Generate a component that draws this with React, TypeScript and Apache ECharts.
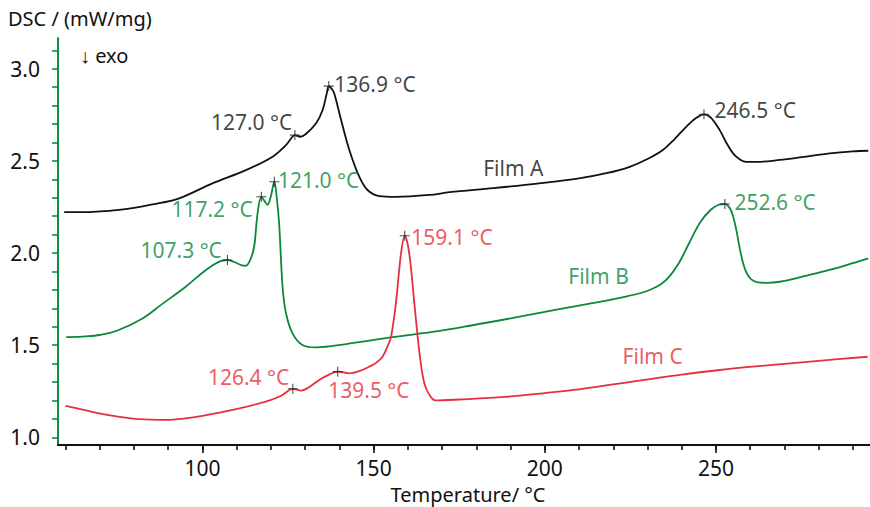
import React, { useEffect, useRef } from "react";
import * as echarts from "echarts";

// ---------- data ----------
const filmA: [number, number][] = [
  [59.6, 2.222], [65, 2.222], [70, 2.226], [75, 2.233], [80, 2.245], [85, 2.262],
  [93.2, 2.297], [102.9, 2.378], [112.7, 2.45], [120.5, 2.523], [124.4, 2.586],
  [126.3, 2.631], [127.0, 2.64], [128.5, 2.631], [130.2, 2.646], [133.2, 2.704],
  [135.1, 2.776], [136.3, 2.866], [136.9, 2.906], [137.8, 2.89], [138.5, 2.866],
  [140.5, 2.722], [142.9, 2.559], [145.8, 2.414], [148.2, 2.342], [151.7, 2.309],
  [156.5, 2.305], [166.3, 2.315], [172.2, 2.33], [185, 2.352], [198.4, 2.378],
  [210, 2.405], [218, 2.433], [224.8, 2.468], [230, 2.51], [234.5, 2.559],
  [238, 2.62], [241.3, 2.685], [244, 2.73], [246.5, 2.753], [248.5, 2.735],
  [251.1, 2.667], [253, 2.6], [255, 2.541], [257, 2.508], [258.9, 2.495],
  [262, 2.495], [268.6, 2.505], [275, 2.52], [283.2, 2.541], [290, 2.552], [294.5, 2.555],
];

const filmB: [number, number][] = [
  [60.2, 1.544], [66, 1.548], [70, 1.555], [75, 1.578], [82.5, 1.645], [88, 1.72],
  [95.1, 1.817], [101, 1.908], [104.9, 1.953], [107.3, 1.962], [109.5, 1.95],
  [111.5, 1.933], [112.7, 1.931], [114, 1.965], [115.1, 2.034], [116.1, 2.215],
  [117.2, 2.305], [118.2, 2.28], [119, 2.262], [120, 2.31], [121.0, 2.387],
  [121.7, 2.3], [122.4, 2.16], [123.4, 1.817], [124.4, 1.673], [126.3, 1.564],
  [129.2, 1.501], [133.2, 1.488], [142, 1.506], [155.6, 1.543], [169.2, 1.577],
  [180, 1.612], [190, 1.645], [200, 1.68], [210, 1.715], [218, 1.742], [224, 1.765],
  [228, 1.783], [231, 1.802], [234, 1.832], [236.5, 1.875], [239, 1.94], [241, 2.01],
  [243, 2.085], [245.5, 2.17], [248.5, 2.235], [250.8, 2.262], [252.6, 2.266],
  [254, 2.245], [255, 2.2], [256, 2.12], [257, 2.02], [258, 1.94], [259, 1.89],
  [260.3, 1.857], [262, 1.842], [265, 1.838], [268.6, 1.844], [275, 1.87],
  [283.2, 1.908], [290, 1.945], [294.5, 1.971],
];

const filmC: [number, number][] = [
  [60, 1.171], [65, 1.15], [69.8, 1.13], [75, 1.113], [81.5, 1.098], [89.3, 1.094],
  [95, 1.102], [100, 1.116], [108.8, 1.148], [118.5, 1.193], [123, 1.225],
  [126.4, 1.263], [128.8, 1.253], [131, 1.27], [134.1, 1.311], [137, 1.34],
  [139.5, 1.356], [142.9, 1.347], [146, 1.36], [148.7, 1.383], [150.8, 1.405],
  [152.6, 1.437], [154, 1.49], [155.1, 1.546], [156.5, 1.727], [158, 1.998],
  [159.1, 2.094], [160.4, 1.998], [161.9, 1.727], [163.4, 1.456], [164.8, 1.293],
  [166.3, 1.23], [168, 1.2], [175, 1.205], [188.4, 1.219], [200, 1.24], [210, 1.26],
  [229, 1.311], [240, 1.34], [251.1, 1.365], [265, 1.39], [280, 1.415], [294.3, 1.437],
];

const peaksA: [number, number][] = [[127.0, 2.64], [136.9, 2.906], [246.5, 2.753]];
const peaksB: [number, number][] = [[107.3, 1.962], [117.2, 2.305], [121.0, 2.387], [252.6, 2.266]];
const peaksC: [number, number][] = [[126.4, 1.263], [139.5, 1.356], [159.1, 2.094]];

const filmNames = ["Film A", "Film B", "Film C"];
const filmNameAnchors: [number, number][] = [[190.8, 2.461], [215.7, 1.876], [231.5, 1.442]];

const yLabelValues = [1.0, 1.5, 2.0, 2.5, 3.0];
const yTickValues = [1.0, 1.1, 1.2, 1.3, 1.4, 1.5, 1.6, 1.7, 1.8, 1.9, 2.0, 2.1, 2.2, 2.3, 2.4, 2.5, 2.6, 2.7, 2.8, 2.9, 3.0, 3.1];
const xLabelValues = [100, 150, 200, 250];
const xTickValues = [60, 70, 80, 90, 100, 110, 120, 130, 140, 150, 160, 170, 180, 190, 200, 210, 220, 230, 240, 250, 260, 270, 280, 290];

const yAxisTitle = "DSC / (mW/mg)";
const xAxisTitle = "Temperature/ °C";
const exoText = "↓ exo";

// ---------- styling ----------
const FONT = "'Noto Sans', 'Open Sans', sans-serif";
const FS = 21;
const FS_TITLE = 20;
const BLACK = "#111111";
const GREEN = "#0c883b";
const RED = "#e5313b";
const AXIS_GREEN = "#0d8f3d";

const peakLabelPlacement: Record<string, { position: string; distance: number; offset: [number, number] }> = {
  "127.0": { position: "left", distance: 0, offset: [3, -13] },
  "136.9": { position: "right", distance: 0, offset: [0, -2] },
  "246.5": { position: "right", distance: 5, offset: [0, -4] },
  "107.3": { position: "left", distance: 0, offset: [0, -10] },
  "117.2": { position: "left", distance: 3, offset: [0, 12] },
  "121.0": { position: "right", distance: -2, offset: [0, -2] },
  "252.6": { position: "right", distance: 4, offset: [0, -2] },
  "159.1": { position: "right", distance: 1, offset: [0, 1] },
  "126.4": { position: "left", distance: -2, offset: [0, -12] },
  "139.5": { position: "right", distance: 5, offset: [-20, 18] },
};

const CROSS = "path://M0,5L10,5M5,0L5,10";

function peakSeries(peaks: [number, number][], color: string) {
  return {
    type: "scatter",
    symbol: CROSS,
    symbolSize: 10,
    z: 5,
    itemStyle: { color: "transparent", borderColor: "#222", borderWidth: 1.1 },
    data: peaks.map((p) => {
      const key = p[0].toFixed(1);
      const pl = peakLabelPlacement[key];
      return {
        value: p,
        label: {
          show: true,
          formatter: `${key} °C`,
          position: pl.position,
          distance: pl.distance,
          offset: pl.offset,
          color,
          fontSize: FS,
          fontFamily: FONT,
        },
      };
    }),
  };
}

function lineSeries(name: string, data: [number, number][], color: string) {
  return {
    type: "line",
    name,
    data,
    showSymbol: false,
    symbol: "none",
    smooth: 0.35,
    lineStyle: { color, width: 1.8 },
    z: 3,
  };
}

export default function App() {
  const ref = useRef<HTMLDivElement>(null);

  useEffect(() => {
    if (!ref.current) return;
    const chart = echarts.init(ref.current, null, { renderer: "svg" });
    const colors = [BLACK, GREEN, RED];

    const option: any = {
      animation: false,
      backgroundColor: "#ffffff",
      grid: { left: 58, right: 0, top: 38, bottom: 62, containLabel: false },
      xAxis: [
        {
          type: "value",
          min: 57.8,
          max: 295,
          position: "bottom",
          axisLine: { show: true, onZero: false, lineStyle: { color: BLACK, width: 2 } },
          axisTick: { show: true, length: 5, customValues: xTickValues, lineStyle: { color: BLACK, width: 1.6 } },
          axisLabel: {
            show: true,
            customValues: xLabelValues,
            color: BLACK,
            fontSize: FS,
            fontFamily: FONT,
            margin: 12,
          },
          splitLine: { show: false },
        },
        {
          type: "value",
          min: 57.8,
          max: 295,
          position: "bottom",
          axisLine: { show: false, onZero: false },
          axisTick: { show: true, length: 8, customValues: xLabelValues, lineStyle: { color: BLACK, width: 1.6 } },
          axisLabel: { show: false },
          splitLine: { show: false },
        },
      ],
      yAxis: {
        type: "value",
        min: 0.958,
        max: 3.167,
        axisLine: { show: true, onZero: false, lineStyle: { color: AXIS_GREEN, width: 2 } },
        axisTick: { show: true, length: 6, customValues: yTickValues, lineStyle: { color: AXIS_GREEN, width: 1.6 } },
        axisLabel: {
          show: true,
          customValues: yLabelValues,
          formatter: (v: number) => v.toFixed(1),
          color: BLACK,
          fontSize: FS,
          fontFamily: FONT,
          margin: 18,
        },
        splitLine: { show: false },
      },
      series: [
        lineSeries(filmNames[0], filmA, BLACK),
        lineSeries(filmNames[1], filmB, GREEN),
        lineSeries(filmNames[2], filmC, RED),
        peakSeries(peaksA, BLACK),
        peakSeries(peaksB, GREEN),
        peakSeries(peaksC, RED),
        {
          type: "scatter",
          symbolSize: 1,
          itemStyle: { color: "transparent" },
          z: 4,
          data: filmNames.map((n, i) => ({
            value: filmNameAnchors[i],
            label: {
              show: true,
              position: "inside",
              formatter: n,
              color: colors[i],
              fontSize: FS,
              fontFamily: FONT,
            },
          })),
        },
      ],
      graphic: [
        {
          type: "text",
          left: 8,
          top: 8,
          style: { text: yAxisTitle, fontSize: FS_TITLE, fontFamily: FONT, fill: BLACK },
        },
        {
          type: "text",
          left: 80,
          top: 45,
          style: { text: exoText, fontSize: FS_TITLE, fontFamily: FONT, fill: BLACK },
        },
        {
          type: "text",
          x: 468,
          y: 494,
          style: {
            text: xAxisTitle,
            fontSize: FS_TITLE,
            fontFamily: FONT,
            fill: BLACK,
            align: "center",
            verticalAlign: "middle",
          },
        },
      ],
    };

    chart.setOption(option);
    return () => chart.dispose();
  }, []);

  return (
    <div
      ref={ref}
      style={{ position: "fixed", left: 0, top: 0, width: 870, height: 507, background: "#fff" }}
    />
  );
}
